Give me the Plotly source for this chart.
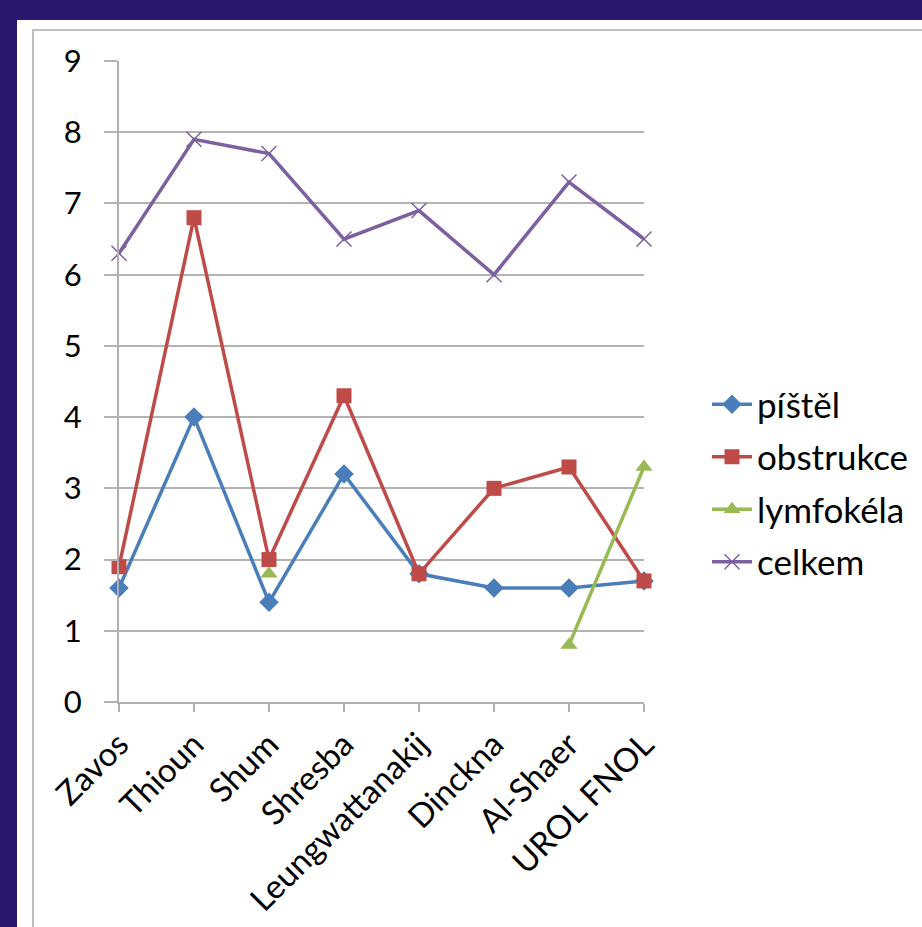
import plotly.graph_objects as go

categories = ["Zavos", "Thioun", "Shum", "Shresba", "Leungwattanakij",
              "Dinckna", "Al-Shaer", "UROL FNOL"]
pistel = [1.6, 4.0, 1.4, 3.2, 1.8, 1.6, 1.6, 1.7]
obstrukce = [1.9, 6.8, 2.0, 4.3, 1.8, 3.0, 3.3, 1.7]
lymfokela = [None, None, 1.8, None, None, None, 0.8, 3.3]
celkem = [6.3, 7.9, 7.7, 6.5, 6.9, 6.0, 7.3, 6.5]
y_ticks = [0, 1, 2, 3, 4, 5, 6, 7, 8, 9]

W, H = 922, 927
L, R, T, B = 119, 644, 61, 702  # plot area in pixels
pw, ph = R - L, B - T


def px(x):
    return (x - L) / pw


def py(y):
    return (B - y) / ph


FONT = "Lato, Carlito, Calibri, sans-serif"
idx = list(range(len(categories)))

series = [
    ("píštěl", pistel, "#4a7ebb", dict(symbol="diamond", size=15)),
    ("obstrukce", obstrukce, "#be4b48", dict(symbol="square", size=15)),
    ("lymfokéla", lymfokela, "#98b954", dict(symbol="triangle-up", size=15)),
    ("celkem", celkem, "#7d60a0",
     dict(symbol="x-thin-open", size=15, line=dict(width=1.5, color="#9a86b8"))),
]

fig = go.Figure()
for i, (name, vals, color, mk) in enumerate(series):
    marker = dict(color=color, **mk)
    fig.add_trace(go.Scatter(
        x=idx, y=vals, name=name, mode="lines+markers",
        line=dict(color=color, width=3.5), marker=marker,
        connectgaps=False, cliponaxis=False, legendgroup=f"g{i}",
    ))

fig.update_layout(
    width=W, height=H,
    margin=dict(l=L, r=W - R, t=T, b=H - B, autoexpand=False),
    paper_bgcolor="#2a1870",
    plot_bgcolor="rgba(0,0,0,0)",
    font=dict(family=FONT, size=30, color="#000000"),
    showlegend=True,
    legend=dict(
        x=px(707), y=py(483), xanchor="left", yanchor="middle",
        bgcolor="rgba(0,0,0,0)", font=dict(size=35, family=FONT),
        traceorder="grouped", tracegroupgap=4, itemwidth=40,
    ),
    xaxis=dict(
        range=[0, 7], tickvals=idx, ticktext=categories, tickangle=-45,
        showgrid=False, showline=True, linecolor="#b0b0b0", linewidth=2,
        ticks="outside", ticklen=8, tickwidth=2, tickcolor="#b0b0b0",
        zeroline=False, tickfont=dict(size=33, family=FONT), automargin=False,
    ),
    yaxis=dict(
        range=[0, 9], tickvals=y_ticks, showgrid=True, gridcolor="#b3b3b3",
        gridwidth=2, showline=True, linecolor="#b0b0b0", linewidth=2,
        ticks="outside", ticklen=13, tickwidth=2, tickcolor="#b3b3b3",
        zeroline=False, tickfont=dict(size=31, family=FONT),
        ticklabelstandoff=16, automargin=False,
    ),
    shapes=[
        dict(type="rect", xref="paper", yref="paper", layer="below",
             x0=px(17), x1=px(940), y0=py(940), y1=py(20),
             fillcolor="#ffffff", line=dict(width=0)),
        dict(type="rect", xref="paper", yref="paper", layer="below",
             x0=px(33), x1=px(960), y0=py(960), y1=py(30),
             fillcolor="rgba(0,0,0,0)", line=dict(color="#c0c0c0", width=2)),
    ],
)

fig.write_html("out.html")
